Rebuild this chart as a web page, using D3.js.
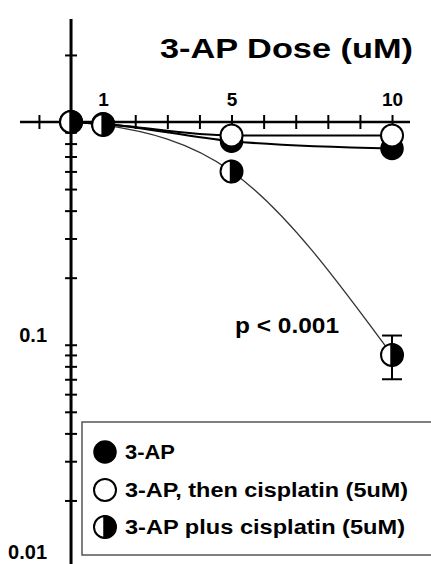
<!DOCTYPE html>
<html>
<head>
<meta charset="utf-8">
<script src="https://cdn.jsdelivr.net/npm/d3@7"></script>
<style>
  html, body { margin: 0; padding: 0; background: #fff; }
  svg { display: block; font-family: "Liberation Sans", Arial, Helvetica, sans-serif; }
</style>
</head>
<body>
<svg id="chart" width="431" height="564"></svg>
<script>
// ---- data ----
const doses = [0, 1, 5, 10];
const apOnly = [1.0, 0.98, 0.82, 0.76];
const apThenCis = [1.0, 0.98, 0.87, 0.87];
const apPlusCis = [1.0, 0.97, 0.60, 0.09];
const apPlusCisLow = [null, null, null, 0.07];
const apPlusCisHigh = [null, null, null, 0.11];
const xTickValues = [-1, 0, 1, 2, 3, 4, 5, 6, 7, 8, 9, 10];
const xTickLabels = [1, 5, 10];
const yTickValues = [2, 1, 0.9, 0.8, 0.7, 0.6, 0.5, 0.4, 0.3, 0.2, 0.1,
                     0.09, 0.08, 0.07, 0.06, 0.05, 0.04, 0.03, 0.02, 0.01];
const yTickLabels = [0.1, 0.01];
const seriesNames = ["3-AP", "3-AP, then cisplatin (5uM)", "3-AP plus cisplatin (5uM)"];
const titleText = "3-AP Dose (uM)";
const pText = "p < 0.001";

// ---- layout ----
const svg = d3.select("#chart");
const W = 431, H = 564;
const x = d3.scaleLinear().domain([-1.59, 10.56]).range([20, 410]);
const y = d3.scaleLog().domain([0.01, 2.9]).range([567.5, 19]);
const r = 11;

// x axis (crossing ticks, labels above)
const xAxis = d3.axisTop(x)
  .tickValues(xTickValues)
  .tickSize(7)
  .tickPadding(9)
  .tickFormat(d => xTickLabels.includes(d) ? String(d) : "");
const gx = svg.append("g").attr("transform", `translate(0,${y(1)})`).call(xAxis);
gx.attr("font-size", null);
gx.select(".domain").attr("d", `M${x.range()[0]},0H${x.range()[1]}`)
  .attr("stroke", "#000").attr("stroke-width", 2.5);
gx.selectAll(".tick line").attr("y1", -7).attr("y2", 7).attr("stroke-width", 2);
gx.selectAll(".tick text")
  .style("font-size", "19px").style("font-weight", "bold")
  .attr("fill", "#000")
  .attr("font-family", "Liberation Sans, Arial, sans-serif");

// y axis (crossing ticks)
const yAxis = d3.axisLeft(y)
  .tickValues(yTickValues)
  .tickSize(6)
  .tickPadding(18)
  .tickFormat(d => yTickLabels.includes(d) ? String(d) : "");
const gy = svg.append("g").attr("transform", `translate(${x(0)},0)`).call(yAxis);
gy.attr("font-size", null);
gy.select(".domain").attr("d", `M0,${y.range()[1]}V${y.range()[0]}`)
  .attr("stroke", "#000").attr("stroke-width", 3);
gy.selectAll(".tick line").attr("x1", -6).attr("x2", 6).attr("stroke-width", 2);
gy.selectAll(".tick text")
  .style("font-size", "20px").style("font-weight", "bold")
  .attr("fill", "#000")
  .attr("dy", 0)
  .attr("y", d => Math.min(-3, (H - 6) - y(d)))
  .attr("font-family", "Liberation Sans, Arial, sans-serif");

// title
svg.append("text")
  .attr("x", 160).attr("y", 58)
  .attr("font-size", 28).attr("font-weight", "bold")
  .attr("textLength", 253).attr("lengthAdjust", "spacingAndGlyphs")
  .text(titleText);

// lines
const mkLine = (vals) => d3.line()
  .x((d, i) => x(doses[i]))
  .y(d => y(d))
  .curve(d3.curveMonotoneX)(vals);

svg.append("path").attr("d", mkLine(apPlusCis))
  .attr("fill", "none").attr("stroke", "#333").attr("stroke-width", 1.3);
svg.append("path").attr("d", mkLine(apOnly))
  .attr("fill", "none").attr("stroke", "#000").attr("stroke-width", 2);
svg.append("path").attr("d", mkLine(apThenCis))
  .attr("fill", "none").attr("stroke", "#000").attr("stroke-width", 2);

// error bars
doses.forEach((d, i) => {
  if (apPlusCisLow[i] == null) return;
  const cx = x(d);
  const g = svg.append("g").attr("stroke", "#000").attr("stroke-width", 2);
  g.append("line").attr("x1", cx).attr("x2", cx).attr("y1", y(apPlusCisLow[i])).attr("y2", y(apPlusCisHigh[i]));
  g.append("line").attr("x1", cx - 10).attr("x2", cx + 10).attr("y1", y(apPlusCisLow[i])).attr("y2", y(apPlusCisLow[i]));
  g.append("line").attr("x1", cx - 10).attr("x2", cx + 10).attr("y1", y(apPlusCisHigh[i])).attr("y2", y(apPlusCisHigh[i]));
});

// markers
function filled(g, cx, cy) {
  g.append("circle").attr("cx", cx).attr("cy", cy).attr("r", r)
    .attr("fill", "#000").attr("stroke", "#000").attr("stroke-width", 1.5);
}
function open(g, cx, cy) {
  g.append("circle").attr("cx", cx).attr("cy", cy).attr("r", r)
    .attr("fill", "#fff").attr("stroke", "#000").attr("stroke-width", 2);
}
function half(g, cx, cy) {
  g.append("circle").attr("cx", cx).attr("cy", cy).attr("r", r)
    .attr("fill", "#fff").attr("stroke", "#000").attr("stroke-width", 2);
  g.append("path")
    .attr("d", `M${cx - 1},${cy - r}A${r},${r} 0 0 1 ${cx - 1},${cy + r}Z`)
    .attr("fill", "#000").attr("stroke", "#000").attr("stroke-width", 1.5);
}
const gm = svg.append("g");
apOnly.forEach((v, i) => filled(gm, x(doses[i]), y(v)));
apThenCis.forEach((v, i) => open(gm, x(doses[i]), y(v)));
apPlusCis.forEach((v, i) => half(gm, x(doses[i]), y(v)));

// p-value annotation
svg.append("text")
  .attr("x", 235).attr("y", 333)
  .attr("font-size", 22).attr("font-weight", "bold")
  .attr("textLength", 104).attr("lengthAdjust", "spacingAndGlyphs")
  .text(pText);

// legend
svg.append("rect")
  .attr("x", 82).attr("y", 422).attr("width", 380).attr("height", 133)
  .attr("fill", "#fff").attr("stroke", "#555").attr("stroke-width", 1.5);
const legendMarkers = [filled, open, half];
const legendY = [452, 490, 527];
const legendW = [50, 283, 280];
seriesNames.forEach((name, i) => {
  const g = svg.append("g");
  legendMarkers[i](g, 105, legendY[i]);
  g.append("text")
    .attr("x", 125).attr("y", legendY[i] + 7)
    .attr("font-size", 20).attr("font-weight", "bold")
    .attr("textLength", legendW[i]).attr("lengthAdjust", "spacingAndGlyphs")
    .text(name);
});
</script>
</body>
</html>
